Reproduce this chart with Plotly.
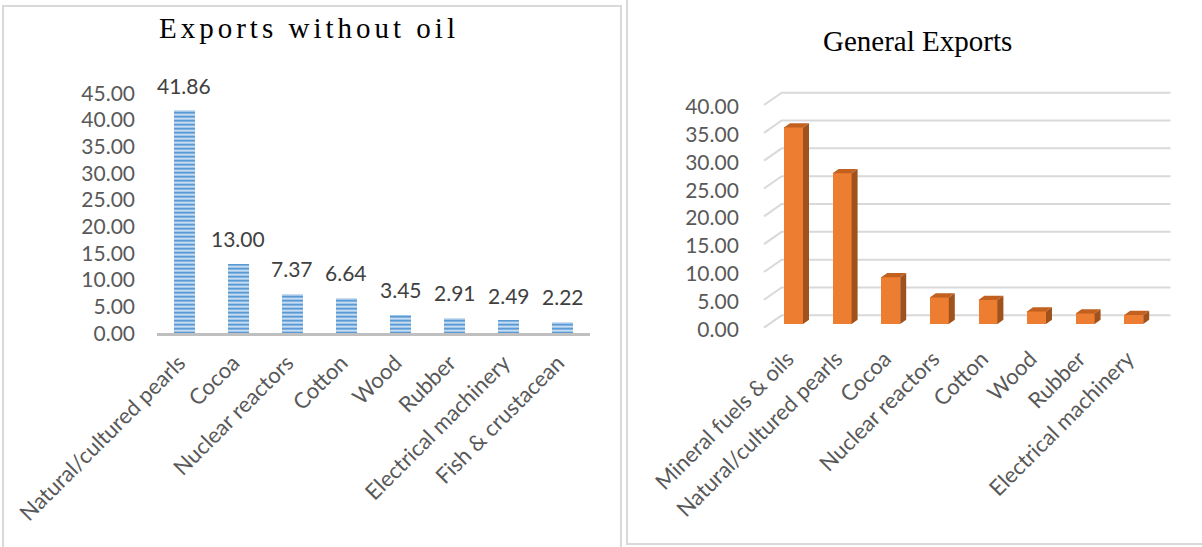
import plotly.graph_objects as go

FIG_W, FIG_H = 1202, 547

# ---- Exports without oil (share of exports, %) ----
cats_left = ["Natural/cultured pearls", "Cocoa", "Nuclear reactors", "Cotton",
             "Wood", "Rubber", "Electrical machinery", "Fish & crustacean"]
vals_left = [41.86, 13.00, 7.37, 6.64, 3.45, 2.91, 2.49, 2.22]
ticks_left = [0, 5, 10, 15, 20, 25, 30, 35, 40, 45]

# ---- General exports (share of exports, %) ----
cats_right = ["Mineral fuels & oils", "Natural/cultured pearls", "Cocoa",
              "Nuclear reactors", "Cotton", "Wood", "Rubber", "Electrical machinery"]
vals_right = [35.30, 27.10, 8.40, 4.77, 4.30, 2.23, 1.88, 1.61]
ticks_right = [0, 5, 10, 15, 20, 25, 30, 35, 40]

TICK_FONT = dict(family="Lato", size=21, color="#595959")
CAT_FONT = dict(family="Lato", size=22, color="#595959")
LABEL_FONT = dict(family="Lato", size=21, color="#404040")
GRID = "#D9D9D9"


def xdom(left_px, right_px):
    return [left_px / FIG_W, right_px / FIG_W]


def ydom(top_px, bottom_px):
    return [1 - bottom_px / FIG_H, 1 - top_px / FIG_H]


# ---------------- left chart geometry ----------------
L_RANGE = [0, 50]
L_X = (157, 590)
L_ZERO, L_UNIT = 333.3, 5.333          # pixel of value 0, pixels per unit

# ---------------- right chart (pseudo 3-D) geometry ----------------
R_CAT, R_UNIT = 48.6, 5.565            # px per category slot, px per unit
R_X0, R_Y0 = 781.7, 315.3              # back wall: x=-0.5 and value 0
R_XRANGE = [-0.95, 7.55]
R_YRANGE = [-2.6, 41.0]
WALL_DX, WALL_DY = -17.7 / R_CAT, -12.3 / R_UNIT     # back wall -> front edge
FRONT_DX, FRONT_DY = -12.5 / R_CAT, -8.7 / R_UNIT    # back wall -> bar front face
SIDE_DX, SIDE_DY = 6.0 / R_CAT, 4.3 / R_UNIT         # bar depth
BAR_W = 19.0 / R_CAT

r_xpx = [R_X0 + (v + 0.5) * R_CAT for v in R_XRANGE]
r_ypx = [R_Y0 - v * R_UNIT for v in R_YRANGE]

fig = go.Figure()

# left: striped bars
fig.add_trace(go.Bar(
    x=cats_left, y=vals_left, width=0.39,
    marker=dict(color="#5B9BD5", line=dict(width=0),
                pattern=dict(shape="-", bgcolor="#C9DDF2", fgcolor="#5B9BD5",
                             size=4, solidity=0.5)),
    xaxis="x", yaxis="y", hoverinfo="skip", showlegend=False,
))

# right: front faces of the columns
xs_front = [i + FRONT_DX for i in range(len(vals_right))]
fig.add_trace(go.Bar(
    x=xs_front, y=vals_right, base=[FRONT_DY] * len(vals_right), width=BAR_W,
    marker=dict(color="#ED7D31", line=dict(width=0)),
    xaxis="x2", yaxis="y2", hoverinfo="skip", showlegend=False,
))

# right: side and top faces of the columns
side_x, side_y, top_x, top_y = [], [], [], []
for xc, v in zip(xs_front, vals_right):
    xl, xr = xc - BAR_W / 2, xc + BAR_W / 2
    yb, yt = FRONT_DY, FRONT_DY + v
    side_x += [xr, xr, xr + SIDE_DX, xr + SIDE_DX, None]
    side_y += [yb, yt, yt + SIDE_DY, yb + SIDE_DY, None]
    top_x += [xl, xr, xr + SIDE_DX, xl + SIDE_DX, None]
    top_y += [yt, yt, yt + SIDE_DY, yt + SIDE_DY, None]

fig.add_trace(go.Scatter(x=side_x, y=side_y, mode="lines", fill="toself",
                         fillcolor="#A0521D", line=dict(width=0),
                         xaxis="x2", yaxis="y2", hoverinfo="skip", showlegend=False))
fig.add_trace(go.Scatter(x=top_x, y=top_y, mode="lines", fill="toself",
                         fillcolor="#C2611F", line=dict(width=0),
                         xaxis="x2", yaxis="y2", hoverinfo="skip", showlegend=False))

shapes = []
# gridlines on the back wall plus the receding side-wall segments
for t in ticks_right:
    x_front, y_front = -0.5 + WALL_DX, t + WALL_DY
    shapes.append(dict(
        type="path", xref="x2", yref="y2", layer="below",
        path=f"M {x_front},{y_front} L -0.5,{t} L 7.5,{t}",
        line=dict(color=GRID, width=2),
    ))

# panel frames
shapes.append(dict(type="rect", xref="paper", yref="paper",
                   x0=3 / FIG_W, x1=621 / FIG_W, y0=-0.05, y1=1 - 6 / FIG_H,
                   line=dict(color=GRID, width=2), layer="below"))
shapes.append(dict(type="rect", xref="paper", yref="paper",
                   x0=627 / FIG_W, x1=1.05, y0=1 - 544 / FIG_H, y1=1.05,
                   line=dict(color=GRID, width=2), layer="below"))

annotations = []
for c, v in zip(cats_left, vals_left):
    annotations.append(dict(x=c, y=v, xref="x", yref="y", text=f"{v:.2f}",
                            showarrow=False, yshift=25, font=LABEL_FONT))

annotations.append(dict(x=309 / FIG_W, y=1 - 28 / FIG_H, xref="paper", yref="paper",
                        text="Exports without oil", showarrow=False,
                        xanchor="center", yanchor="middle",
                        font=dict(family="Liberation Serif", size=29, color="#000000")))
annotations.append(dict(x=917 / FIG_W, y=1 - 41 / FIG_H, xref="paper", yref="paper",
                        text="General Exports", showarrow=False,
                        xanchor="center", yanchor="middle",
                        font=dict(family="Liberation Serif", size=29, color="#000000")))

axis_common = dict(showgrid=False, zeroline=False, ticks="", automargin=False,
                   fixedrange=True)

fig.update_layout(
    template="none",
    width=FIG_W, height=FIG_H,
    margin=dict(l=0, r=0, t=0, b=0, pad=0, autoexpand=False),
    paper_bgcolor="white", plot_bgcolor="rgba(0,0,0,0)",
    font=dict(family="Lato"),
    showlegend=False, bargap=0,
    shapes=shapes, annotations=annotations,
    xaxis=dict(domain=xdom(*L_X), type="category", range=[-0.5, 7.5],
               showline=True, linecolor="#BFBFBF", linewidth=3,
               tickangle=-45, tickfont=CAT_FONT, ticklabelstandoff=5,
               ticklabelshift=-5, **axis_common),
    yaxis=dict(domain=ydom(L_ZERO - L_RANGE[1] * L_UNIT, L_ZERO), range=L_RANGE,
               tickvals=ticks_left, ticktext=[f"{t:.2f}" for t in ticks_left],
               showline=False, tickfont=TICK_FONT, ticklabelstandoff=21,
               **axis_common),
    xaxis2=dict(domain=xdom(*r_xpx), range=R_XRANGE, anchor="y2",
                tickvals=xs_front, ticktext=cats_right, showline=False,
                tickangle=-45, tickfont=CAT_FONT, ticklabelstandoff=11,
                ticklabelshift=-6, **axis_common),
    yaxis2=dict(domain=ydom(r_ypx[1], r_ypx[0]), range=R_YRANGE, anchor="x2",
                tickvals=ticks_right, ticktext=[f"{t:.2f}" for t in ticks_right],
                showline=False, tickfont=TICK_FONT, ticklabelstandoff=20,
                ticklabelshift=14, **axis_common),
)

letter_spacing = (
    "var gd=document.getElementById('{plot_id}');"
    "gd.querySelectorAll('.annotation-text').forEach(function(t){"
    "if(t.textContent==='Exports without oil'){t.style.letterSpacing='4px';}});"
)

fig.write_html("out.html", config={"displayModeBar": False}, post_script=letter_spacing)
